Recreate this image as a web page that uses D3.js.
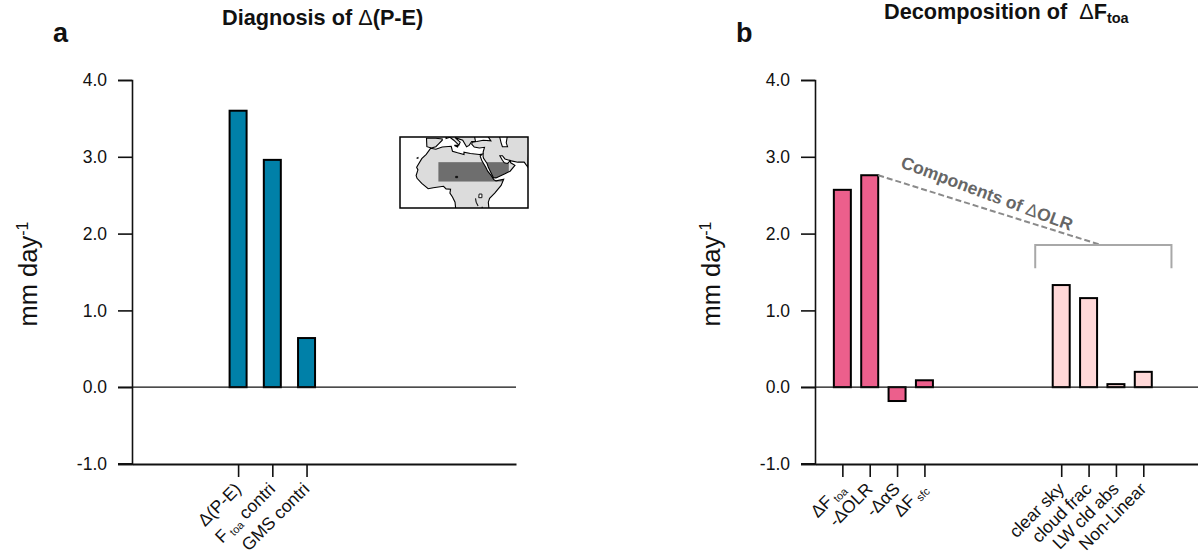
<!DOCTYPE html>
<html><head><meta charset="utf-8">
<script src="https://cdn.jsdelivr.net/npm/d3@7"></script>
<style>html,body{margin:0;padding:0;background:#fff}svg{display:block}text{font-family:"Liberation Sans",Arial,sans-serif;fill:#111}</style>
</head><body><svg id="c" width="1198" height="555"></svg>
<script>
// Data
const yTicks = [-1,0,1,2,3,4];
const labelsA = ["Δ(P-E)","F|toa| contri","GMS contri"];
const positionsA = [0,1,2];
const valuesA = [3.6,2.96,0.64];
const labelsB = ["ΔF|toa","-ΔOLR","-ΔαS","ΔF|sfc","clear sky","cloud frac","LW cld abs","Non-Linear"];
const positionsB = [0,1,2,3,8,9,10,11];
const valuesB = [2.57,2.76,-0.18,0.09,1.33,1.16,0.04,0.2];
const groupB = ["total","total","total","total","part","part","part","part"];
const leaderX = [1.31,9.47], leaderY = [2.76,1.85];
const bracketX = [7.05,12.03], bracketY = [1.55,1.85];
const mapBox = [-30,70,44.5,-10.5];
const targetBox = [0,55,10,25];
const land = [
 [[-6,35.8],[-2,35],[3,36.8],[10,37.3],[11,33.5],[15,32.3],[20,31],[20,32.8],[25,31.7],[32,31],[34.3,31.3],[32.6,29.8],[34,26],[37,21],[38.5,18],[41,15],[43.3,11.5],[45,10.5],[51,11.8],[49,7],[44,1],[40,-3],[39,-6],[39.5,-11],[13.5,-11],[13,-6],[11,-2],[9,1],[9.5,4],[6,4.3],[4,6.3],[-4,5.2],[-8,4.4],[-13,8.5],[-16.7,12.5],[-17.4,14.7],[-16,19],[-17,21],[-13,27.7],[-9.5,31]],
 [[34.9,29.5],[35.3,28],[38,24],[39,21],[41,17],[43,13],[45,12.8],[52,16],[56,18],[59.8,22.5],[56.5,24.5],[56,26],[54,24],[51.5,24.5],[50,26.5],[48,30],[50,30],[52,27.5],[57,26],[62,25],[67,25],[70,21],[71,46],[54,46],[53,40],[54,37],[50,37],[49,40],[48,44],[47,46],[38,46],[41,41.5],[35,42],[30,41],[26.5,40.5],[26,39],[28,36.7],[32,36],[36,36.5],[35,33]],
 [[-9,37],[-9.3,43.5],[-2,43.5],[3,43],[3,42],[0,39],[-2,37],[-5.5,36]],
 [[6,46],[6,43.3],[9,44.3],[12,42],[16,38.2],[17,40.5],[13,44],[19,42],[22,37],[24,38],[26,41],[29,41],[28,46]],
 [[12.5,38],[15.5,38],[15,36.8]],
 [[-17,28],[-16,28.5],[-16,28]]
];
const lakes = [
 [[31.5,-2.5],[34,-2.5],[34,0.3],[31.8,0.3]],
 [[13.5,13],[15,13],[15,14],[13.5,14]]
];
const riftLines = [[[29,-3],[29.5,-6],[31,-9]],[[34,-9.5],[34.5,-11]]];

const svg = d3.select("#c");
const yScale = d3.scaleLinear().domain([-1,4]).range([464,80]);
const fmt = v => d3.format(".1f")(v).replace("−","-");
const tickFont = 17.5;

function drawLabel(g, txt, size){
  const parts = txt.split("|");
  const t = g.append("text").attr("text-anchor","end").attr("font-size",size);
  parts.forEach((p,i)=>{
    const s = t.append("tspan").text(p);
    if(i===1){ s.attr("font-size",size*0.62).attr("dy",3).attr("dx",3); }
    if(i===2){ s.attr("dy",-3); }
  });
}

function panel(ox, x, ticks, labels, values, fill){
  const g = svg.append("g");
  const [x0,x1] = x.range();
  // axes
  const ya = d3.axisLeft(yScale).tickValues(yTicks).tickFormat(fmt).tickSize(14).tickPadding(11);
  const yg = g.append("g").attr("transform",`translate(${x0},0)`).call(ya);
  yg.select(".domain").attr("stroke","#111").attr("stroke-width",1.6);
  yg.selectAll(".tick line").attr("stroke","#111").attr("stroke-width",1.6);
  yg.selectAll("text").attr("font-size",tickFont).attr("font-family","Liberation Sans").style("fill","#111");
  // bars
  g.selectAll(".bar").data(values).join("rect").attr("class","bar")
    .attr("x",(d,i)=>x(ticks[i])-8.5).attr("width",17)
    .attr("y",d=>yScale(Math.max(0,d))).attr("height",d=>Math.abs(yScale(d)-yScale(0)))
    .attr("fill",fill).attr("stroke","#000").attr("stroke-width",2);
  // zero line
  g.append("line").attr("x1",x0-14).attr("x2",x1).attr("y1",yScale(0)).attr("y2",yScale(0)).attr("stroke","#111").attr("stroke-width",1.3);
  // x axis
  const xa = d3.axisBottom(x).tickValues(ticks).tickFormat("").tickSize(13).tickSizeOuter(0);
  const xg = g.append("g").attr("transform",`translate(0,${yScale(-1)})`).call(xa);
  xg.select(".domain").attr("stroke","#111").attr("stroke-width",2);
  xg.selectAll(".tick line").attr("stroke","#111").attr("stroke-width",1.6);
  g.append("line").attr("x1",x0-14).attr("x2",x0).attr("y1",yScale(-1)).attr("y2",yScale(-1)).attr("stroke","#111").attr("stroke-width",2);
  // labels
  labels.forEach((l,i)=>{
    const lg = g.append("g").attr("transform",`translate(${x(ticks[i])+4},490) rotate(-45)`);
    drawLabel(lg,l,tickFont);
  });
  return g;
}

// Panel a
const xA = d3.scaleLinear().domain([-3.1,8.12]).range([132,516]);
panel(0,xA,positionsA,labelsA,valuesA,"#0080a8");
// Panel b
const xB = d3.scaleLinear().domain([-1,13]).range([815,1198]);
const gb = panel(0,xB,positionsB,labelsB,valuesB,"#ec5f8c");
gb.selectAll(".bar").attr("fill",(d,i)=>groupB[i]==="total"?"#ec5f8c":"#ffd8d8");

// annotations
svg.append("line").attr("x1",xB(leaderX[0])).attr("x2",xB(leaderX[1]))
  .attr("y1",yScale(leaderY[0])).attr("y2",yScale(leaderY[1]))
  .attr("stroke","#8a8a8a").attr("stroke-width",2).attr("stroke-dasharray","6 3");
svg.append("path").attr("fill","none").attr("stroke","#a8a8a8").attr("stroke-width",2)
  .attr("d",d3.line().x(d=>xB(d[0])).y(d=>yScale(d[1]))([[bracketX[0],bracketY[0]],[bracketX[0],bracketY[1]],[bracketX[1],bracketY[1]],[bracketX[1],bracketY[0]]]));
const cap = svg.append("text").attr("transform","translate(985,199) rotate(20.5)").attr("text-anchor","middle")
  .attr("font-size",17.5).attr("font-weight","bold").style("fill","#666");
cap.append("tspan").text("Components of ");
cap.append("tspan").attr("font-weight","normal").text("Δ");
cap.append("tspan").text("OLR");

// titles
function title(x,y,parts){
  const t = svg.append("text").attr("x",x).attr("y",y).attr("font-size",21.7).attr("font-weight","bold");
  parts.forEach(p=>{
    const s = t.append("tspan").text(p[0]);
    if(p[1]==="n") s.attr("font-weight","normal");
    if(p[1]==="s") s.attr("font-size",14.5).attr("dy",4);
  });
}
title(222,25,[["Diagnosis of "],["Δ","n"],["(P-E)"]]);
title(884,19,[["Decomposition of\u00a0\u00a0"],["Δ","n"],["F"],["toa","s"]]);
svg.append("text").attr("x",53).attr("y",42).attr("font-size",27).attr("font-weight","bold").text("a");
svg.append("text").attr("x",736).attr("y",42).attr("font-size",27).attr("font-weight","bold").text("b");

// y labels
[[37,274],[720,274]].forEach(p=>{
  const t = svg.append("text").attr("transform",`translate(${p[0]},${p[1]}) rotate(-90)`).attr("text-anchor","middle").attr("font-size",25.5);
  t.append("tspan").text("mm day");
  t.append("tspan").attr("font-size",16).attr("dy",-9).text("-1");
});

// inset map
const lon = d3.scaleLinear().domain([mapBox[0],mapBox[1]]).range([400,528]);
const lat = d3.scaleLinear().domain([mapBox[3],mapBox[2]]).range([208,137]);
const geo = d3.line().x(d=>lon(d[0])).y(d=>lat(d[1])).curve(d3.curveLinearClosed);
const geoOpen = d3.line().x(d=>lon(d[0])).y(d=>lat(d[1]));
const defs = svg.append("defs");
defs.append("clipPath").attr("id","box").append("rect").attr("x",400).attr("y",137).attr("width",128).attr("height",71);
const cl = defs.append("clipPath").attr("id","landclip");
land.forEach(p=>cl.append("path").attr("d",geo(p)));
const m = svg.append("g").attr("clip-path","url(#box)");
m.selectAll(".land").data(land).join("path").attr("class","land").attr("d",geo).attr("fill","#dcdcdc");
m.append("g").attr("clip-path","url(#landclip)").append("rect")
  .attr("x",lon(targetBox[0])).attr("width",lon(targetBox[1])-lon(targetBox[0]))
  .attr("y",lat(targetBox[3])).attr("height",lat(targetBox[2])-lat(targetBox[3])).attr("fill","#6e6e6e");
m.selectAll(".coast").data(land).join("path").attr("class","coast").attr("d",geo).attr("fill","none").attr("stroke","#000").attr("stroke-width",1.1);
m.selectAll(".lake").data(lakes).join("path").attr("class","lake").attr("d",geo)
  .attr("fill",(d,i)=>i===0?"#fff":"#111").attr("stroke","#111").attr("stroke-width",1);
m.selectAll(".rift").data(riftLines).join("path").attr("class","rift").attr("d",geoOpen).attr("fill","none").attr("stroke","#111").attr("stroke-width",1.1);
svg.append("rect").attr("x",400).attr("y",137).attr("width",128).attr("height",71).attr("fill","none").attr("stroke","#000").attr("stroke-width",1.5);
</script></body></html>
